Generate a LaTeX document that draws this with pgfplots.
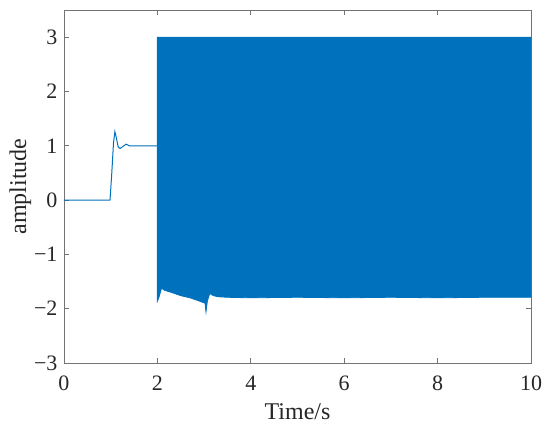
\documentclass[border=0pt]{standalone}
\usepackage{fontspec}
\setmainfont{Liberation Serif}
\usepackage{pgfplots}
\pgfplotsset{compat=1.18}
\definecolor{mblue}{RGB}{0,114,189}
\definecolor{axgray}{RGB}{38,38,38}
\begin{document}
\begin{tikzpicture}
\begin{axis}[
  scale only axis, width=467pt, height=353pt,
  xmin=0, xmax=10, ymin=-3, ymax=3.5,
  xtick={0,2,4,6,8,10}, ytick={-3,-2,-1,0,1,2,3},
  yticklabels={−3,−2,−1,0,1,2,3},
  tick align=inside, major tick length=5pt,
  axis line style={black!55, line width=0.6pt},
  every tick/.style={black!55, line width=0.6pt},
  tick label style={font=\fontsize{22}{22}\selectfont, text=axgray},
  xticklabel style={yshift=-9pt},
  yticklabel style={xshift=-3pt},
  label style={font=\fontsize{24}{24}\selectfont, text=axgray},
  xlabel={Time/s}, ylabel={amplitude},
  xlabel style={yshift=-6pt}, ylabel style={yshift=-4pt},
  /pgf/number format/assume math mode=true,
  clip=true,
]
% fast oscillation from t=2 s: band between upper level and lower envelope
\addplot[draw=mblue, fill=mblue, line width=0.8pt] coordinates {
  (2.0,1) (2.0,3.0) (10,3.0) (10,-1.79)
  (9.0,-1.79) (8.0,-1.8) (7.0,-1.79) (6.0,-1.8) (5.0,-1.79) (4.0,-1.8)
  (3.5,-1.79) (3.3,-1.78) (3.2,-1.76) (3.12,-1.72) (3.07,-1.86)
  (3.04,-2.06) (3.02,-1.9) (2.9,-1.86) (2.7,-1.8) (2.5,-1.76)
  (2.3,-1.7) (2.15,-1.66) (2.09,-1.62) (2.03,-1.8) (2.0,-1.86) (2.0,1)
} -- cycle;
% step response before the oscillation
\addplot[draw=mblue, line width=1pt] coordinates {
  (0,0) (0.985,0) (1.02,0.45) (1.06,1.05) (1.09,1.26) (1.12,1.15)
  (1.16,0.98) (1.2,0.95) (1.25,0.98) (1.33,1.03) (1.4,1.0) (1.99,1.0) (2.0,1.0)
};
% last sample at t=10 s
\addplot[draw=mblue, line width=0.8pt] coordinates {(9.995,-1.79) (10,1.35)};
\end{axis}
\path (-64pt,-71pt) rectangle (486pt,363pt);
\end{tikzpicture}
\end{document}
